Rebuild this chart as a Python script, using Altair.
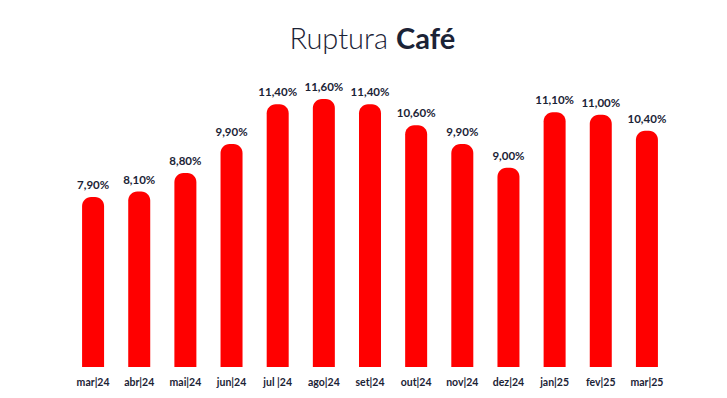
import altair as alt
import pandas as pd

months = ["mar|24", "abr|24", "mai|24", "jun|24", "jul |24", "ago|24", "set|24",
          "out|24", "nov|24", "dez|24", "jan|25", "fev|25", "mar|25"]
values = [7.90, 8.10, 8.80, 9.90, 11.40, 11.60, 11.40, 10.60, 9.90, 9.00, 11.10, 11.00, 10.40]
labels = ["7,90%", "8,10%", "8,80%", "9,90%", "11,40%", "11,60%", "11,40%",
          "10,60%", "9,90%", "9,00%", "11,10%", "11,00%", "10,40%"]

df = pd.DataFrame({"mes": months, "valor": values, "rotulo": labels})

FONT = "Lato"
DARK = "#1b2336"
Y_MIN, Y_MAX = 1.48, 12.69

x = alt.X("mes:N", sort=months,
          scale=alt.Scale(paddingInner=0, paddingOuter=0),
          axis=alt.Axis(title=None, labelAngle=0, domain=False, ticks=False,
                        labelFont=FONT, labelFontSize=10.5, labelFontWeight="bold",
                        labelColor=DARK, labelPadding=10))
y = alt.Y("valor:Q", scale=alt.Scale(domain=[Y_MIN, Y_MAX], zero=False, nice=False),
          axis=None)

base = alt.Chart(df)

bars = base.mark_bar(size=22, color="#ff0000", cornerRadiusTopLeft=9,
                     cornerRadiusTopRight=9).encode(
    x=x, y=y, y2=alt.datum(Y_MIN))

text = base.mark_text(dy=-6, font=FONT, fontSize=11.5, fontWeight="bold",
                      color=DARK, baseline="bottom").encode(
    x=x, y=y, text="rotulo:N")

t1 = alt.Chart(pd.DataFrame({"t": ["Ruptura"]})).mark_text(
    font=FONT, fontSize=29, fontWeight=300, color=DARK, align="right",
    baseline="alphabetic").encode(x=alt.value(318), y=alt.value(-21), text="t:N")
t2 = alt.Chart(pd.DataFrame({"t": ["Café"]})).mark_text(
    font=FONT, fontSize=29, fontWeight="bold", color=DARK, align="left",
    baseline="alphabetic").encode(x=alt.value(326), y=alt.value(-21), text="t:N")

chart = alt.layer(bars, text, t1, t2).properties(
    width=600, height=297,
    autosize=alt.AutoSizeParams(type="none"),
    padding={"left": 62, "top": 62, "right": 49, "bottom": 30},
    background="white",
).configure_view(stroke=None)

chart.save("out.html", embed_options={"renderer": "svg", "actions": False})
